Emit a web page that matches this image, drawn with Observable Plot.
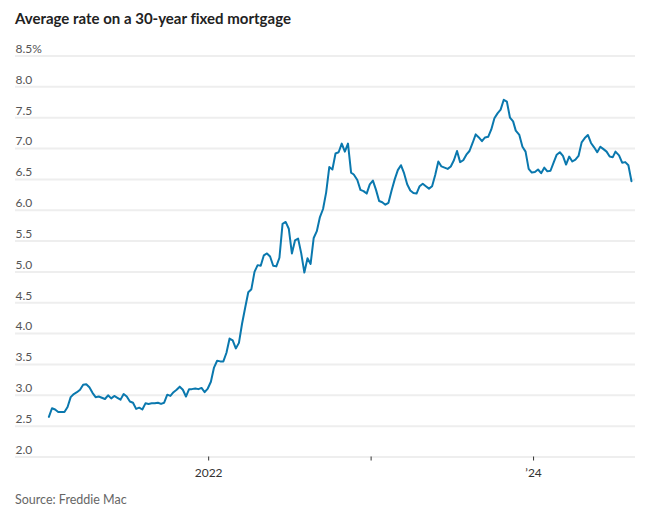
<!DOCTYPE html>
<html>
<head>
<meta charset="utf-8">
<script src="https://cdn.jsdelivr.net/npm/d3@7"></script>
<script src="https://cdn.jsdelivr.net/npm/@observablehq/plot@0.6"></script>
<style>
  body { margin: 0; background: #fff; font-family: Lato, "Noto Sans", sans-serif; font-variant-ligatures: none; }
  #title { height: 30px; box-sizing: border-box; padding: 9px 0 0 15px; font-size: 15px; line-height: 18px; font-weight: 700; color: #222; }
  #source { margin-top: 7px; padding-left: 15px; font-size: 12.5px; line-height: 16px; color: #666; }
  #chart svg { display: block; font-variant-ligatures: none; }
</style>
</head>
<body>
<div id="title">Average rate on a 30-year fixed mortgage</div>
<div id="chart"></div>
<div id="source">Source: Freddie Mac</div>
<script>
const weeks = [
  "2021-01-07","2021-01-14","2021-01-21","2021-01-28","2021-02-04","2021-02-11","2021-02-18","2021-02-25",
  "2021-03-04","2021-03-11","2021-03-18","2021-03-25","2021-04-01","2021-04-08","2021-04-15","2021-04-22","2021-04-29",
  "2021-05-06","2021-05-13","2021-05-20","2021-05-27","2021-06-03","2021-06-10","2021-06-17","2021-06-24",
  "2021-07-01","2021-07-08","2021-07-15","2021-07-22","2021-07-29","2021-08-05","2021-08-12","2021-08-19","2021-08-26",
  "2021-09-02","2021-09-09","2021-09-16","2021-09-23","2021-09-30","2021-10-07","2021-10-14","2021-10-21","2021-10-28",
  "2021-11-04","2021-11-11","2021-11-18","2021-11-24","2021-12-02","2021-12-09","2021-12-16","2021-12-23","2021-12-30",
  "2022-01-06","2022-01-13","2022-01-20","2022-01-27","2022-02-03","2022-02-10","2022-02-17","2022-02-24",
  "2022-03-03","2022-03-10","2022-03-17","2022-03-24","2022-03-31","2022-04-07","2022-04-14","2022-04-21","2022-04-28",
  "2022-05-05","2022-05-12","2022-05-19","2022-05-26","2022-06-02","2022-06-09","2022-06-16","2022-06-23","2022-06-30",
  "2022-07-07","2022-07-14","2022-07-21","2022-07-28","2022-08-04","2022-08-11","2022-08-18","2022-08-25",
  "2022-09-01","2022-09-08","2022-09-15","2022-09-22","2022-09-29","2022-10-06","2022-10-13","2022-10-20","2022-10-27",
  "2022-11-03","2022-11-10","2022-11-17","2022-11-23","2022-12-01","2022-12-08","2022-12-15","2022-12-22","2022-12-29",
  "2023-01-05","2023-01-12","2023-01-19","2023-01-26","2023-02-02","2023-02-09","2023-02-16","2023-02-23",
  "2023-03-02","2023-03-09","2023-03-16","2023-03-23","2023-03-30","2023-04-06","2023-04-13","2023-04-20","2023-04-27",
  "2023-05-04","2023-05-11","2023-05-18","2023-05-25","2023-06-01","2023-06-08","2023-06-15","2023-06-22","2023-06-29",
  "2023-07-06","2023-07-13","2023-07-20","2023-07-27","2023-08-03","2023-08-10","2023-08-17","2023-08-24","2023-08-31",
  "2023-09-07","2023-09-14","2023-09-21","2023-09-28","2023-10-05","2023-10-12","2023-10-19","2023-10-26",
  "2023-11-02","2023-11-09","2023-11-16","2023-11-22","2023-11-30","2023-12-07","2023-12-14","2023-12-21","2023-12-28",
  "2024-01-04","2024-01-11","2024-01-18","2024-01-25","2024-02-01","2024-02-08","2024-02-15","2024-02-22","2024-02-29",
  "2024-03-07","2024-03-14","2024-03-21","2024-03-28","2024-04-04","2024-04-11","2024-04-18","2024-04-25",
  "2024-05-02","2024-05-09","2024-05-16","2024-05-23","2024-05-30","2024-06-06","2024-06-13","2024-06-20","2024-06-27",
  "2024-07-03","2024-07-11","2024-07-18","2024-07-25","2024-08-01","2024-08-08"
];
const rates = [
  2.65,2.79,2.77,2.73,2.73,2.73,2.81,2.97,
  3.02,3.05,3.09,3.17,3.18,3.13,3.04,2.97,2.98,
  2.96,2.94,3.00,2.95,2.99,2.96,2.93,3.02,
  2.98,2.90,2.88,2.78,2.80,2.77,2.87,2.86,2.87,
  2.87,2.88,2.86,2.88,3.01,2.99,3.05,3.09,3.14,
  3.09,2.98,3.10,3.10,3.11,3.10,3.12,3.05,3.11,
  3.22,3.45,3.56,3.55,3.55,3.69,3.92,3.89,
  3.76,3.85,4.16,4.42,4.67,4.72,5.00,5.11,5.10,
  5.27,5.30,5.25,5.10,5.09,5.23,5.78,5.81,5.70,
  5.30,5.51,5.54,5.30,4.99,5.22,5.13,5.55,
  5.66,5.89,6.02,6.29,6.70,6.66,6.92,6.94,7.08,
  6.95,7.08,6.61,6.58,6.49,6.33,6.31,6.27,6.42,
  6.48,6.33,6.15,6.13,6.09,6.12,6.32,6.50,
  6.65,6.73,6.60,6.42,6.32,6.28,6.27,6.39,6.43,
  6.39,6.35,6.39,6.57,6.79,6.71,6.69,6.67,6.71,
  6.81,6.96,6.78,6.81,6.90,6.96,7.09,7.23,7.18,
  7.12,7.18,7.19,7.31,7.49,7.57,7.63,7.79,
  7.76,7.50,7.44,7.29,7.22,7.03,6.95,6.67,6.61,
  6.62,6.66,6.60,6.69,6.63,6.64,6.77,6.90,6.94,
  6.88,6.74,6.87,6.79,6.82,6.88,7.10,7.17,
  7.22,7.09,7.02,6.94,7.03,6.99,6.95,6.87,6.86,
  6.95,6.89,6.77,6.78,6.73,6.47
];
const yTicks = [2.0,2.5,3.0,3.5,4.0,4.5,5.0,5.5,6.0,6.5,7.0,7.5,8.0,8.5];
const yTickLabels = ["2.0","2.5","3.0","3.5","4.0","4.5","5.0","5.5","6.0","6.5","7.0","7.5","8.0","8.5%"];
const xTicks = ["2022-01-01","2023-01-01","2024-01-01"];
const xTickLabels = ["2022","","\u201924"];
const xDomain = ["2020-10-24","2024-08-17"];
const yDomain = [2, 8.5];

const data = weeks.map((w, i) => ({date: new Date(w), rate: rates[i]}));
const yLabelData = yTicks.map((v, i) => ({v, label: yTickLabels[i]}));
const xTickDates = xTicks.map(d => new Date(d));

const chart = Plot.plot({
  width: 645,
  height: 455,
  marginLeft: 15,
  marginRight: 10,
  marginTop: 25.5,
  marginBottom: 28.5,
  style: {fontFamily: "Lato, 'Noto Sans', sans-serif", fontSize: "12px", background: "#fff"},
  x: {type: "utc", domain: xDomain.map(d => new Date(d)), axis: null},
  y: {domain: yDomain, axis: null},
  marks: [
    Plot.ruleY(yTicks, {stroke: "#eeeeee", strokeWidth: 2}),
    Plot.text(yLabelData, {y: "v", text: "label", frameAnchor: "left", textAnchor: "start", dy: -7, fill: "#555", fontSize: 12}),
    Plot.axisX(xTickDates, {
      anchor: "bottom",
      tickSize: 4,
      tickPadding: 7,
      stroke: "#333",
      fill: "#333",
      fontSize: 12,
      tickFormat: (d) => xTickLabels[xTickDates.findIndex(t => +t === +d)]
    }),
    Plot.line(data, {x: "date", y: "rate", stroke: "#0a78ae", strokeWidth: 2, curve: "linear"})
  ]
});
document.getElementById("chart").appendChild(chart);
</script>
</body>
</html>
